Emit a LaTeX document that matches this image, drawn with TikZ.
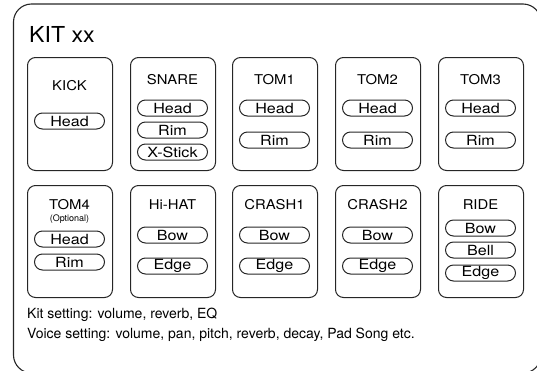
\documentclass[tikz,border=0pt]{standalone}
\usepackage{fontspec}
\setmainfont{TeX Gyre Heros}
\newfontfamily\widefont[FakeStretch=1.15]{TeX Gyre Heros}
\newfontfamily\midfont[FakeStretch=1.1]{TeX Gyre Heros}
\newfontfamily\kitfont[FakeStretch=1.05]{TeX Gyre Heros}
\begin{document}
\begin{tikzpicture}[x=1pt,y=-1pt,
  outer/.style={draw=black!85,line width=1.1pt,rounded corners=18pt},
  padbox/.style={draw=black!85,line width=1pt,rounded corners=8pt,minimum width=85pt,minimum height=113pt,anchor=north west,inner sep=0pt},
  pill/.style={draw=black!85,line width=1pt,rounded corners=8pt,minimum width=70pt,minimum height=16pt,inner sep=0pt,font=\widefont\fontsize{14}{14}\selectfont},
  ttl/.style={font=\midfont\fontsize{13.5}{13.5}\selectfont,inner sep=0pt},
  note/.style={font=\fontsize{14}{14}\selectfont,inner sep=0pt,anchor=west}]
\useasboundingbox (0,0) rectangle (537,370);
\begin{scope}
\clip (0,0) rectangle (537,370);
\draw[outer] (13.5,4) rectangle (541,373);
\end{scope}
\node[inner sep=0pt,anchor=base west,font=\kitfont\fontsize{22}{22}\selectfont] (kit) at (29,42) {KIT xx};
% row 1
\node[padbox] (kick) at (27,57) {};
\node[padbox] (snare) at (130,57) {};
\node[padbox] (tom1) at (232,57) {};
\node[padbox] (tom2) at (335,57) {};
\node[padbox] (tom3) at (438,57) {};
\node[ttl] (kickt) at (69.5,86) {KICK};
\node[pill] (kickh) at (69.5,121) {Head};
\node[ttl] (snaret) at (172.5,80) {SNARE};
\node[pill] (snareh) at (172.5,108) {Head};
\node[pill] (snarer) at (172.5,130) {Rim};
\node[pill] (snarex) at (172.5,152) {X-Stick};
\node[ttl] (tom1t) at (274.5,80) {TOM1};
\node[pill] (tom1h) at (274.5,108) {Head};
\node[pill] (tom1r) at (274.5,140) {Rim};
\node[ttl] (tom2t) at (377.5,80) {TOM2};
\node[pill] (tom2h) at (377.5,108) {Head};
\node[pill] (tom2r) at (377.5,140) {Rim};
\node[ttl] (tom3t) at (480.5,80) {TOM3};
\node[pill] (tom3h) at (480.5,108) {Head};
\node[pill] (tom3r) at (480.5,140) {Rim};
% row 2
\node[padbox,minimum height=112pt] (tom4) at (27,185) {};
\node[padbox,minimum height=112pt] (hihat) at (130,185) {};
\node[padbox,minimum height=112pt] (crash1) at (232,185) {};
\node[padbox,minimum height=112pt] (crash2) at (335,185) {};
\node[padbox,minimum height=112pt] (ride) at (438,185) {};
\node[ttl] (tom4t) at (69.5,205) {TOM4};
\node[inner sep=0pt,font=\fontsize{9}{9}\selectfont] (tom4o) at (69.5,219) {(Optional)};
\node[pill] (tom4h) at (69.5,239) {Head};
\node[pill] (tom4r) at (69.5,262) {Rim};
\node[ttl] (hihatt) at (172.5,205) {Hi-HAT};
\node[pill] (hihatb) at (172.5,235) {Bow};
\node[pill] (hihate) at (172.5,266) {Edge};
\node[ttl] (crash1t) at (274.5,205) {CRASH1};
\node[pill] (crash1b) at (274.5,235) {Bow};
\node[pill] (crash1e) at (274.5,266) {Edge};
\node[ttl] (crash2t) at (377.5,205) {CRASH2};
\node[pill] (crash2b) at (377.5,235) {Bow};
\node[pill] (crash2e) at (377.5,266) {Edge};
\node[ttl] (ridet) at (480.5,205) {RIDE};
\node[pill] (rideb) at (480.5,228) {Bow};
\node[pill] (ridel) at (480.5,250) {Bell};
\node[pill] (ridee) at (480.5,273) {Edge};
% notes
\node[note] (kitset) at (27,315) {Kit setting: volume, reverb, EQ};
\node[note] (voiceset) at (27,335) {Voice setting: volume, pan, pitch, reverb, decay, Pad Song etc.};
\end{tikzpicture}
\end{document}
